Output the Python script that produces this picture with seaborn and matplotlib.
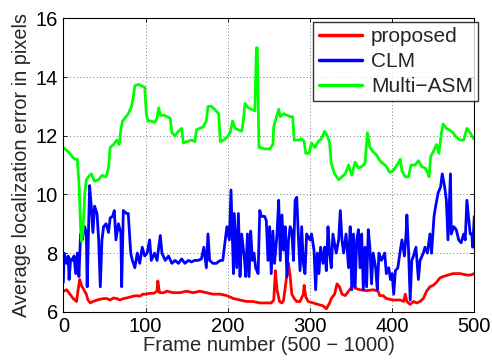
import matplotlib
matplotlib.use("Agg")
import matplotlib.pyplot as plt
import seaborn as sns
import pandas as pd

# ---- data ----
asm_x = [0, 4, 8, 11, 14, 17, 19, 21, 22, 24, 26, 28, 32, 34, 38, 43, 47, 52, 55, 57, 61, 65, 68, 70, 72, 75, 79, 83, 85, 87,
         91, 95, 99, 101, 103, 107, 111, 114, 116, 118, 122, 126, 130, 132, 136, 140, 144, 146, 150, 156, 160, 162, 166, 170,
         174, 176, 180, 184, 189, 191, 195, 199, 203, 206, 209, 213, 217, 219, 221, 225, 229, 233, 235, 236, 238, 239, 245,
         251, 255, 256, 260, 262, 264, 268, 272, 276, 279, 281, 286, 290, 293, 295, 299, 302, 306, 310, 314, 318, 322, 324,
         326, 330, 335, 339, 343, 347, 351, 355, 359, 363, 367, 370, 373, 377, 381, 385, 389, 393, 397, 401, 406, 410, 412,
         416, 420, 423, 428, 432, 436, 440, 443, 445, 447, 450, 454, 457, 460, 462, 466, 470, 474, 478, 483, 487, 491, 495, 499]
asm_y = [11.6, 11.5, 11.4, 11.28, 11.2, 11.2, 10.4, 8.9, 8.4, 8.8, 10.0, 10.5, 10.65, 10.7, 10.45, 10.5, 10.65, 10.6, 10.9,
         11.6, 11.7, 11.85, 11.7, 12.2, 12.5, 12.6, 12.75, 13.0, 13.3, 13.7, 13.75, 13.7, 13.65, 12.75, 12.5, 12.5, 12.45,
         12.6, 12.95, 12.7, 12.7, 12.65, 12.6, 12.1, 12.0, 12.15, 12.25, 11.75, 11.8, 11.85, 11.8, 12.2, 12.25, 12.3, 12.5,
         13.0, 13.0, 12.9, 12.75, 11.8, 11.85, 11.95, 12.1, 12.5, 12.25, 12.2, 12.15, 12.5, 13.1, 12.95, 12.9, 12.85, 15.0,
         15.0, 11.6, 11.6, 11.55, 11.55, 11.7, 12.3, 12.7, 12.9, 12.65, 12.75, 12.7, 12.65, 12.65, 11.85, 11.85, 11.9, 11.8,
         11.4, 11.4, 11.75, 11.6, 11.8, 11.9, 12.15, 11.95, 11.75, 11.05, 10.7, 10.5, 10.6, 10.7, 11.0, 10.65, 11.1, 10.9,
         10.95, 11.05, 12.1, 11.6, 11.45, 11.35, 11.15, 11.05, 10.95, 10.75, 10.8, 11.0, 11.2, 10.8, 10.6, 10.6, 11.0, 11.0,
         11.15, 10.95, 10.9, 10.75, 10.6, 11.3, 11.45, 11.7, 11.4, 12.1, 12.4, 12.25, 12.2, 12.1, 11.95, 11.85, 11.85, 12.25,
         12.1, 11.9]

clm_x = [0, 1, 4, 6, 7, 9, 11, 13, 15, 17, 19, 21, 23, 26, 28, 29, 31, 32, 34, 36, 38, 41, 43, 45, 47, 49, 52, 55, 57, 60,
         62, 64, 67, 70, 71, 73, 77, 79, 82, 84, 87, 90, 93, 96, 99, 102, 105, 107, 111, 114, 118, 120, 124, 128, 132, 136,
         140, 144, 148, 152, 156, 160, 164, 168, 171, 174, 176, 178, 182, 186, 191, 194, 197, 199, 202, 204, 207, 208, 211,
         213, 215, 217, 220, 222, 224, 226, 228, 230, 232, 234, 237, 239, 241, 245, 247, 249, 251, 253, 255, 257, 260, 262,
         264, 266, 268, 270, 272, 274, 276, 278, 280, 282, 284, 286, 288, 290, 292, 294, 296, 300, 302, 305, 307, 309, 311,
         313, 316, 318, 320, 322, 324, 326, 328, 332, 335, 337, 339, 341, 344, 347, 349, 351, 353, 355, 357, 359, 361, 363,
         365, 367, 369, 371, 373, 375, 377, 380, 382, 384, 387, 391, 393, 396, 398, 400, 402, 404, 407, 410, 412, 415, 417,
         418, 420, 422, 424, 426, 429, 432, 434, 438, 440, 443, 446, 448, 451, 453, 456, 459, 461, 464, 466, 468, 471, 472,
         475, 478, 481, 484, 487, 489, 491, 495, 497, 498, 500]
clm_y = [7.0, 8.0, 7.65, 7.9, 7.1, 7.8, 7.75, 7.9, 7.3, 8.0, 7.2, 8.65, 8.45, 8.9, 8.7, 6.85, 9.25, 10.3, 9.6, 8.7, 9.6,
         9.35, 8.45, 6.85, 8.45, 8.9, 9.0, 8.7, 9.2, 9.25, 9.45, 8.45, 9.0, 8.7, 6.85, 9.45, 9.35, 9.35, 8.0, 7.75, 7.5, 8.0,
         7.65, 8.2, 7.9, 8.0, 8.45, 7.75, 8.0, 7.75, 8.6, 8.0, 7.75, 7.9, 7.65, 7.75, 7.65, 7.8, 7.65, 7.75, 7.7, 7.75, 7.75,
         7.8, 8.2, 7.5, 8.65, 7.75, 7.65, 7.65, 7.75, 7.75, 8.45, 8.9, 8.45, 10.15, 7.3, 9.35, 7.5, 9.35, 7.2, 8.65, 7.9, 7.2,
         8.65, 7.2, 8.75, 7.75, 8.0, 7.5, 7.3, 9.45, 9.25, 9.25, 9.1, 7.75, 8.9, 7.3, 8.75, 7.65, 8.65, 9.8, 7.75, 9.3, 8.1,
         8.9, 7.2, 8.45, 8.9, 8.75, 7.75, 9.8, 9.9, 8.55, 7.4, 8.9, 7.65, 7.3, 8.65, 8.45, 8.65, 8.1, 6.75, 8.0, 7.3, 8.2, 7.65,
         8.2, 7.4, 8.9, 8.0, 7.5, 8.65, 8.0, 8.45, 9.45, 8.45, 8.0, 8.65, 7.5, 8.9, 6.75, 8.65, 6.85, 8.45, 8.8, 7.5, 8.65,
         6.75, 8.2, 6.85, 8.8, 8.2, 6.95, 8.0, 7.5, 6.75, 8.0, 7.75, 8.0, 7.3, 7.5, 7.1, 7.3, 6.6, 7.4, 7.5, 8.1, 8.45, 7.9,
         8.65, 9.3, 8.1, 6.4, 7.75, 7.9, 8.2, 7.1, 7.75, 8.0, 8.2, 8.0, 8.65, 8.0, 9.25, 9.6, 10.05, 10.25, 10.7, 10.25, 9.8,
         8.45, 10.7, 8.65, 8.9, 8.8, 8.45, 8.35, 8.65, 8.45, 9.8, 8.65, 8.65, 8.2, 9.25]

prop_x = [0, 4, 8, 12, 16, 18, 20, 22, 24, 28, 30, 33, 36, 41, 45, 49, 53, 57, 61, 65, 69, 73, 77, 81, 85, 89, 93, 97, 101,
          105, 110, 114, 115, 117, 122, 126, 134, 142, 150, 158, 166, 174, 182, 191, 199, 207, 215, 223, 231, 239, 247, 253,
          256, 258, 260, 263, 266, 268, 271, 274, 276, 278, 281, 284, 288, 292, 293, 295, 298, 304, 310, 316, 320, 324, 326,
          330, 333, 336, 339, 343, 347, 351, 353, 355, 361, 369, 377, 383, 385, 389, 393, 401, 410, 414, 416, 418, 422, 426,
          430, 434, 438, 442, 446, 450, 454, 458, 462, 468, 474, 483, 491, 495, 500]
prop_y = [6.7, 6.75, 6.6, 6.45, 6.35, 6.75, 7.1, 6.9, 6.8, 6.6, 6.4, 6.3, 6.35, 6.4, 6.43, 6.45, 6.45, 6.4, 6.47, 6.45, 6.4,
          6.45, 6.47, 6.5, 6.53, 6.55, 6.53, 6.6, 6.6, 6.63, 6.63, 6.7, 7.05, 6.65, 6.65, 6.7, 6.65, 6.65, 6.7, 6.65, 6.7,
          6.65, 6.6, 6.6, 6.55, 6.45, 6.4, 6.35, 6.35, 6.3, 6.3, 6.3, 6.4, 7.4, 6.75, 6.35, 6.3, 6.4, 7.05, 7.65, 7.2, 6.6,
          6.45, 6.35, 6.35, 6.6, 6.9, 6.5, 6.35, 6.3, 6.25, 6.2, 6.1, 6.3, 6.45, 6.6, 6.95, 6.85, 6.6, 6.55, 6.7, 6.85, 7.1,
          6.8, 6.75, 6.72, 6.75, 6.7, 6.55, 6.55, 6.45, 6.4, 6.4, 6.35, 6.6, 6.35, 6.25, 6.35, 6.3, 6.35, 6.45, 6.7, 6.85,
          6.9, 7.0, 7.15, 7.2, 7.25, 7.3, 7.3, 7.25, 7.25, 7.3]

methods = ["proposed", "CLM", "Multi\u2212ASM"]
colors = ["#ff0000", "#0000ff", "#00ff00"]
x_ticks = [0, 100, 200, 300, 400, 500]
y_ticks = [6, 8, 10, 12, 14, 16]

df = pd.concat([
    pd.DataFrame({"frame": prop_x, "err": prop_y, "method": methods[0]}),
    pd.DataFrame({"frame": clm_x, "err": clm_y, "method": methods[1]}),
    pd.DataFrame({"frame": asm_x, "err": asm_y, "method": methods[2]}),
], ignore_index=True)

sns.set_style("white")
plt.rcParams["font.family"] = ["Liberation Sans", "DejaVu Sans"]

fig = plt.figure(figsize=(4.92, 3.6), dpi=100)
ax = fig.add_axes([0.1287, 0.134, 0.8353, 0.815])

sns.lineplot(data=df, x="frame", y="err", hue="method", hue_order=methods,
             palette=dict(zip(methods, colors)), estimator=None, sort=False,
             linewidth=2.0, ax=ax)

ax.set_xlim(0, 500)
ax.set_ylim(6, 16)
ax.set_xticks(x_ticks)
ax.set_yticks(y_ticks)
ax.tick_params(direction="in", length=3, width=0.6, labelsize=14.5, top=True, right=True,
               bottom=True, left=True, pad=4, colors="black")
ax.grid(True, linestyle=(0, (1, 3)), color="black", linewidth=0.6, alpha=0.7)
for s in ax.spines.values():
    s.set_visible(True)
    s.set_color("black")
    s.set_linewidth(0.8)

ax.set_xlabel("Frame number (500 \u2212 1000)", fontsize=14.5, labelpad=0)
ax.set_ylabel("Average localization error in pixels", fontsize=14.3, labelpad=3)

leg = ax.legend(loc="upper right", bbox_to_anchor=(1.009, 0.987), fontsize=15,
                frameon=True, fancybox=False, handlelength=2.1, borderaxespad=0.0,
                labelspacing=0.28, handletextpad=0.4, borderpad=0.25)
leg.get_frame().set_edgecolor("black")
leg.get_frame().set_linewidth(1.0)
for h in leg.get_lines():
    h.set_linewidth(2.5)

fig.savefig("out.png", dpi=100)
